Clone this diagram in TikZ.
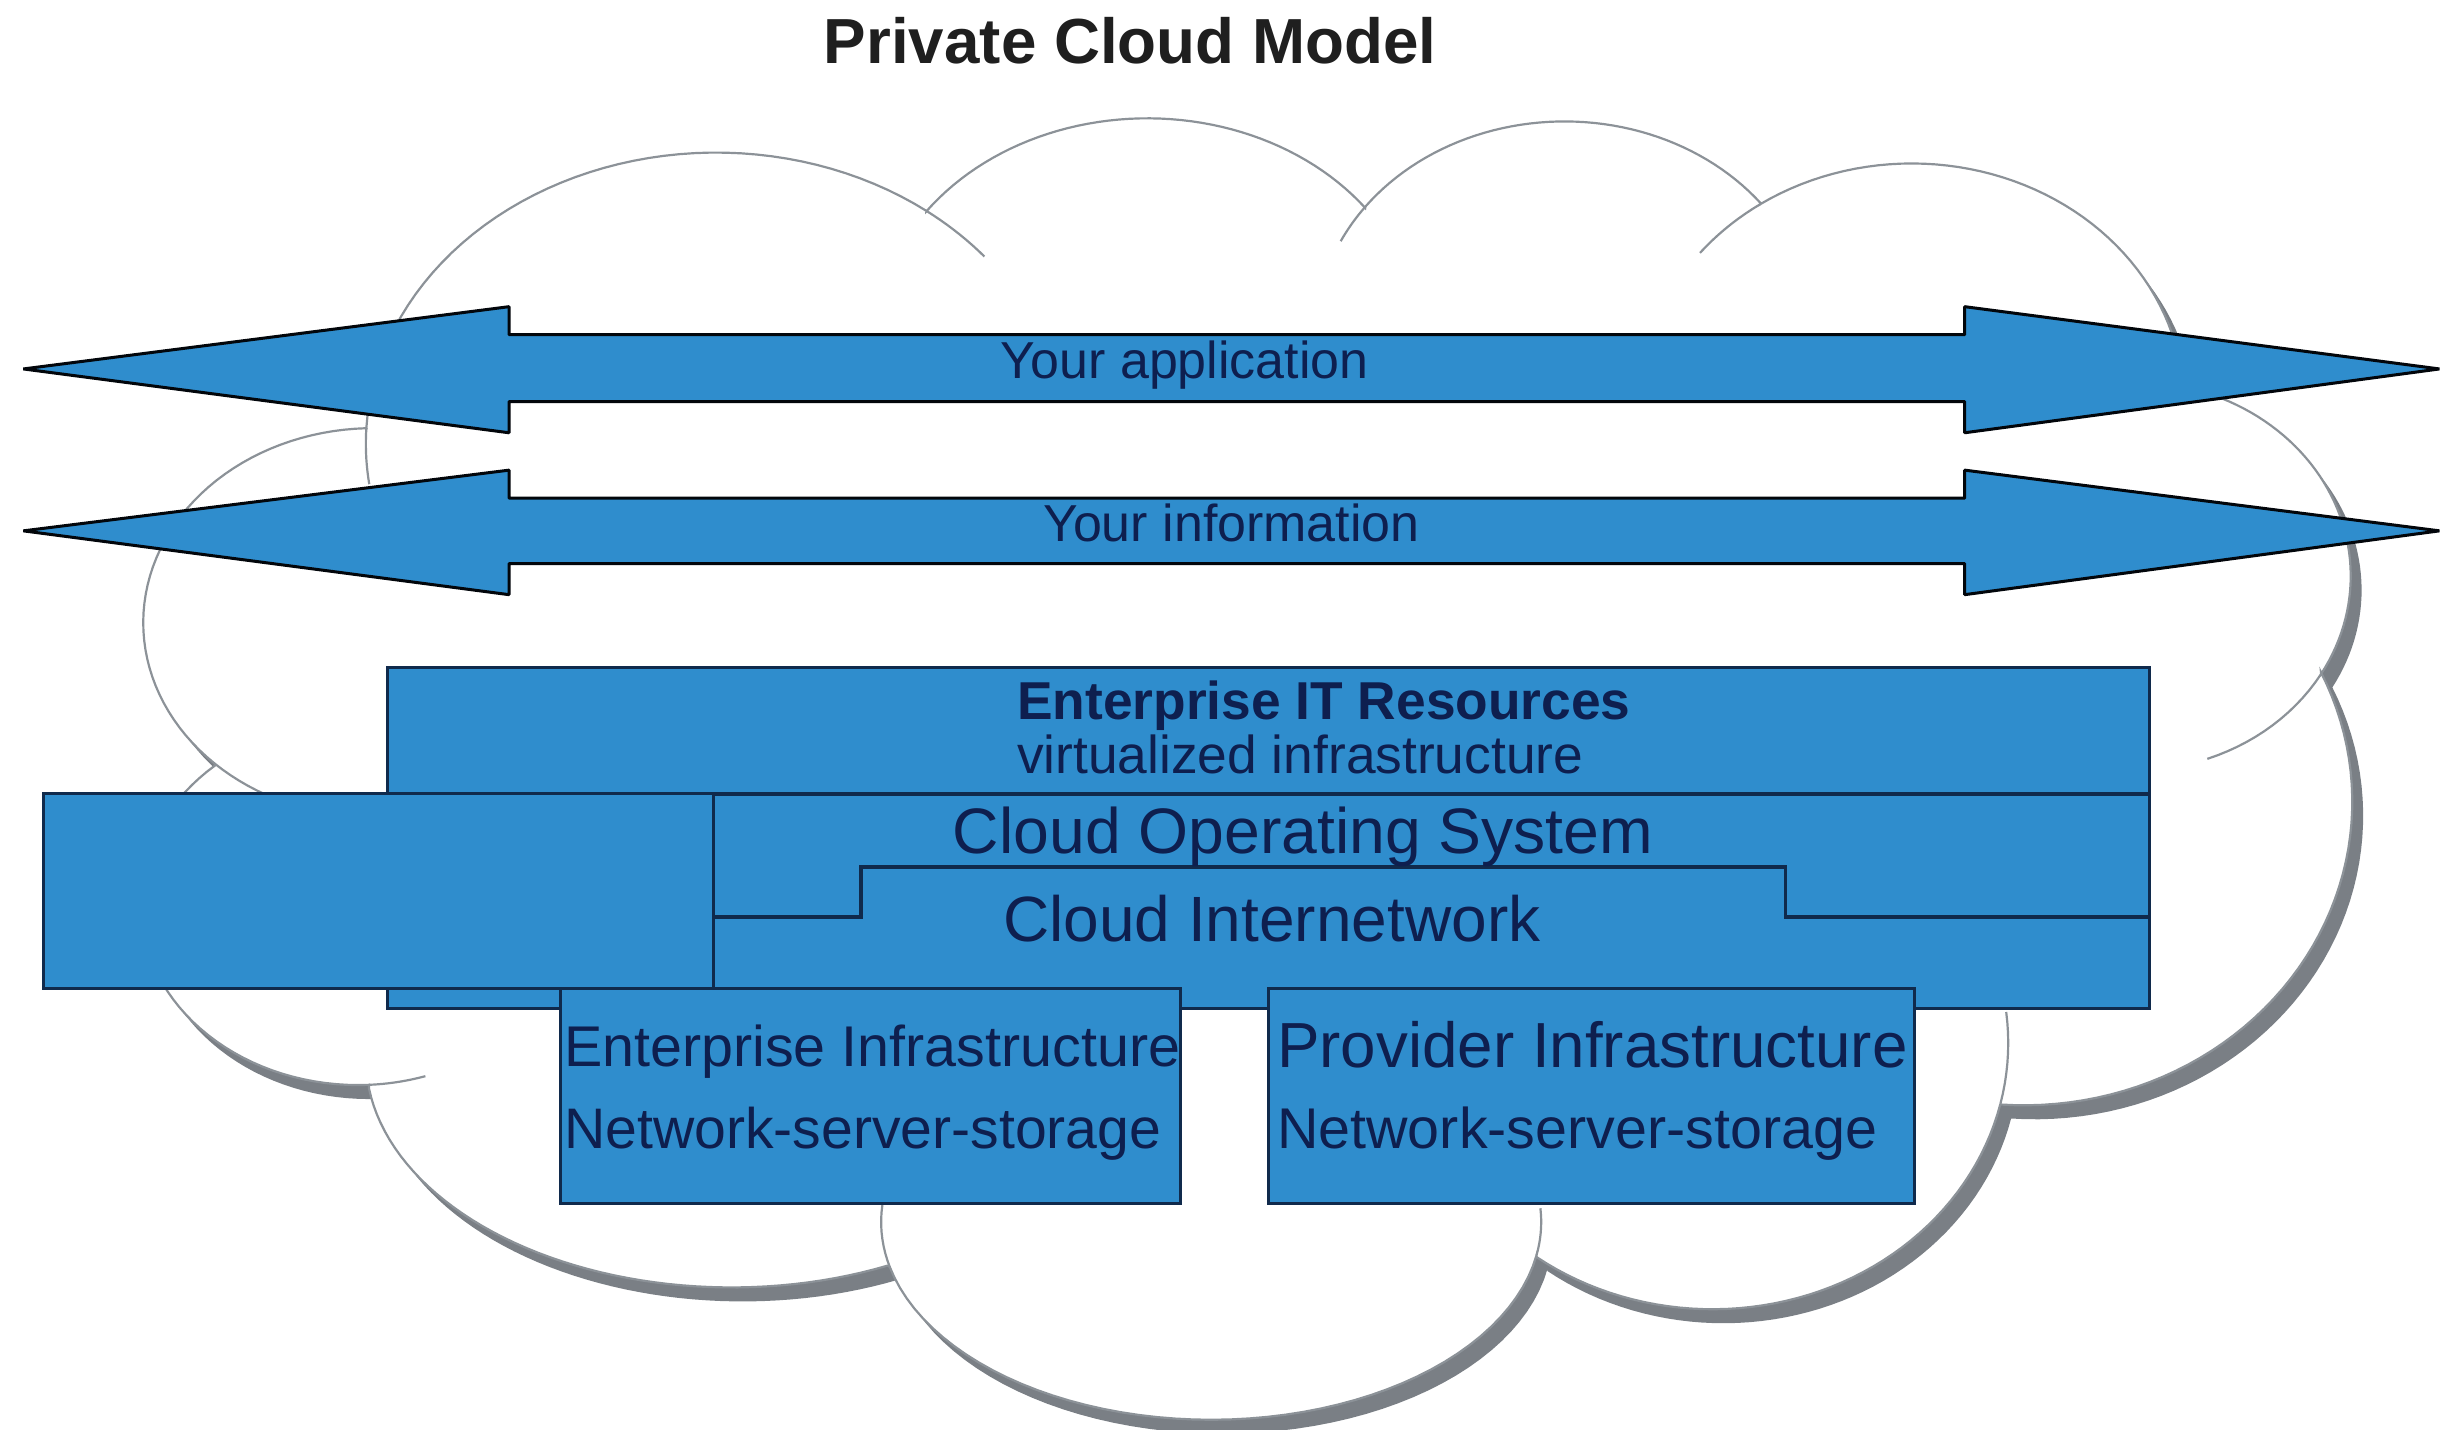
\documentclass[tikz,border=0pt]{standalone}
\usepackage{fontspec}
\setmainfont{Liberation Sans}
\definecolor{boxblue}{RGB}{47,141,205}
\definecolor{edgeblue}{RGB}{16,42,76}
\definecolor{txtblue}{RGB}{14,31,79}
\definecolor{cloudline}{RGB}{140,146,152}
\definecolor{cloudshadow}{RGB}{122,127,133}
\def\cloudoutline{(235.3,274.9)
 -- plot[domain=176.9:53.1,samples=50,variable=\t] ({460+225*cos(\t)},{285-187*sin(\t)})
 -- plot[domain=144.2:36.9,samples=50,variable=\t] ({737+175*cos(\t)},{220-144*sin(\t)})
 -- plot[domain=143.1:38,samples=50,variable=\t] ({1005+160*cos(\t)},{215-137*sin(\t)})
 -- plot[domain=123.7:5,samples=50,variable=\t] ({1228+175*cos(\t)},{260-155*sin(\t)})
 -- plot[domain=76.8:-30.2,samples=50,variable=\t] ({1370+140*cos(\t)},{370-125*sin(\t)})
 -- plot[domain=25.2:-94.1,samples=50,variable=\t] ({1300+211*cos(\t)},{515-195*sin(\t)})
 -- plot[domain=-13.2:-126.5,samples=50,variable=\t] ({1100+190*cos(\t)},{670-171*sin(\t)})
 -- plot[domain=-9.6:-166.9,samples=50,variable=\t] ({778+212*cos(\t)},{785-127*sin(\t)})
 -- plot[domain=-64.8:-172.5,samples=50,variable=\t] ({470+235*cos(\t)},{680-147*sin(\t)})
 -- plot[domain=-87.1:-228.9,samples=50,variable=\t] ({230+140*cos(\t)},{580-117*sin(\t)})
 -- plot[domain=226.4:91.8,samples=50,variable=\t] ({240+148*cos(\t)},{400-125*sin(\t)})
 -- cycle}
\begin{document}
\begin{tikzpicture}[x=0.02cm,y=-0.02cm,
  lbl/.style={inner sep=0pt,text=txtblue},
  blueshape/.style={fill=boxblue,draw=edgeblue,line width=1.1pt,line join=miter},
  bigarrow/.style={fill=boxblue,draw=black!85!edgeblue,line width=1.1pt,line join=bevel},
  cloudedge/.style={draw=cloudline,line width=0.8pt},
  divider/.style={draw=edgeblue,line width=1.3pt}]
\useasboundingbox (0,0) rectangle (1568,918);
% cloud shadow, body, and inner arc ends
\fill[cloudshadow,shift={(7,9)}] \cloudoutline;
\path[fill=white,cloudedge] \cloudoutline;
\draw[cloudedge] plot[domain=176.9:188,samples=10,variable=\t] ({460+225*cos(\t)},{285-187*sin(\t)});
\draw[cloudedge] plot[domain=53.1:40,samples=10,variable=\t] ({460+225*cos(\t)},{285-187*sin(\t)});
\draw[cloudedge] plot[domain=143.1:154,samples=10,variable=\t] ({1005+160*cos(\t)},{215-137*sin(\t)});
\draw[cloudedge] plot[domain=123.7:141,samples=10,variable=\t] ({1228+175*cos(\t)},{260-155*sin(\t)});
\draw[cloudedge] plot[domain=-30.2:-70,samples=15,variable=\t] ({1370+140*cos(\t)},{370-125*sin(\t)});
\draw[cloudedge] plot[domain=-13.2:6.7,samples=10,variable=\t] ({1100+190*cos(\t)},{670-171*sin(\t)});
\draw[cloudedge] plot[domain=-9.6:4,samples=10,variable=\t] ({778+212*cos(\t)},{785-127*sin(\t)});
\draw[cloudedge] plot[domain=-166.9:-185,samples=10,variable=\t] ({778+212*cos(\t)},{785-127*sin(\t)});
\draw[cloudedge] plot[domain=-87.1:-72,samples=10,variable=\t] ({230+140*cos(\t)},{580-117*sin(\t)});
\draw[cloudedge] plot[domain=226.4:250,samples=10,variable=\t] ({240+148*cos(\t)},{400-125*sin(\t)});
% double arrows
\path[bigarrow] (15,237) -- (327,197) -- (327,215) -- (1262,215) -- (1262,197) -- (1567,237)
  -- (1262,278) -- (1262,258) -- (327,258) -- (327,278) -- cycle;
\path[bigarrow] (15,341) -- (327,302) -- (327,320) -- (1262,320) -- (1262,302) -- (1567,341)
  -- (1262,382) -- (1262,362) -- (327,362) -- (327,382) -- cycle;
% layered blocks
\path[blueshape] (249,429) rectangle (1381,648);
\draw[divider] (458,510) -- (1381,510);
\draw[divider] (458,589) -- (553,589) -- (553,557) -- (1147,557) -- (1147,589) -- (1381,589);
\path[blueshape] (28,510) rectangle (458,635);
\path[blueshape] (360,635) rectangle (758,773);
\path[blueshape] (815,635) rectangle (1230,773);
% texts
\node[lbl,text=black!88,anchor=base,font=\fontsize{23.3pt}{28pt}\selectfont\bfseries] (title) at (726,41) {Private Cloud Model};
\node[lbl,anchor=base,font=\fontsize{19pt}{23pt}\selectfont] (app) at (761,243) {Your application};
\node[lbl,anchor=base,font=\fontsize{19pt}{23pt}\selectfont] (info) at (791,348) {Your information};
\node[lbl,anchor=base west,font=\fontsize{19.5pt}{23pt}\selectfont\bfseries] (eitr) at (653,462) {Enterprise IT Resources};
\node[lbl,anchor=base west,font=\fontsize{19.5pt}{23pt}\selectfont] (virt) at (653,497) {virtualized infrastructure};
\node[lbl,anchor=base,font=\fontsize{23.5pt}{28pt}\selectfont] (cos) at (837,548) {Cloud Operating System};
\node[lbl,anchor=base,font=\fontsize{23.4pt}{28pt}\selectfont] (cin) at (817,605) {Cloud Internetwork};
\node[lbl,anchor=base west,font=\fontsize{21pt}{25pt}\selectfont] (ent) at (362,685) {Enterprise Infrastructure};
\node[lbl,anchor=base west,font=\fontsize{20.9pt}{25pt}\selectfont] (ens) at (362,738) {Network-server-storage};
\node[lbl,anchor=base west,font=\fontsize{23.3pt}{28pt}\selectfont] (prv) at (820,686) {Provider Infrastructure};
\node[lbl,anchor=base west,font=\fontsize{21pt}{25pt}\selectfont] (prs) at (820,738) {Network-server-storage};
\end{tikzpicture}
\end{document}
